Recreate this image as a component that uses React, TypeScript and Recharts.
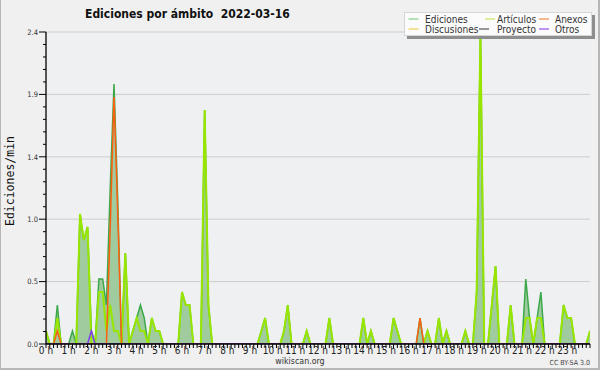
import React from 'react';
import { ComposedChart, Area, Line, XAxis, YAxis, CartesianGrid, Legend } from 'recharts';

// 10-minute slots of 2022-03-16 (0 = 00:00 ... 144 = 24:00)
const slots: number[] = Array.from({ length: 145 }, (_, i) => i);

const hourLabels = [
  '0 h', '1 h', '2 h', '3 h', '4 h', '5 h', '6 h', '7 h', '8 h', '9 h', '10 h', '11 h',
  '12 h', '13 h', '14 h', '15 h', '16 h', '17 h', '18 h', '19 h', '20 h', '21 h', '22 h', '23 h',
];

const ediciones = [
  0.1, 0, 0, 0.3, 0, 0, 0, 0.1, 0, 1.0, 0.8, 0.9,
  0.1, 0, 0.5, 0.5, 0.3, 1.2, 2.0, 1.1, 0, 0.7, 0, 0.1,
  0.2, 0.3, 0.2, 0, 0.2, 0.1, 0.1, 0, 0, 0, 0, 0,
  0.4, 0.3, 0.3, 0, 0, 0, 1.8, 0.3, 0, 0, 0, 0,
  0, 0, 0, 0, 0, 0, 0, 0, 0, 0.1, 0.2, 0,
  0, 0, 0, 0.1, 0.3, 0, 0, 0, 0, 0.1, 0, 0,
  0, 0, 0, 0.2, 0, 0, 0, 0, 0, 0, 0, 0,
  0.2, 0, 0.1, 0, 0, 0, 0, 0, 0.2, 0.1, 0, 0,
  0, 0, 0, 0.2, 0, 0.1, 0, 0, 0.2, 0, 0.1, 0,
  0, 0, 0, 0.1, 0, 0, 0.4, 2.4, 0, 0, 0.3, 0.6,
  0, 0, 0, 0.3, 0, 0, 0, 0.5, 0.2, 0, 0.2, 0.4,
  0, 0, 0, 0, 0, 0.3, 0.2, 0.2, 0, 0, 0, 0,
  0.1,
];

const articulos = [
  0.1, 0, 0, 0.2, 0, 0, 0, 0, 0, 1.0, 0.8, 0.9,
  0, 0, 0.4, 0.4, 0.1, 0.3, 0.1, 0.1, 0, 0.7, 0, 0.1,
  0.2, 0.1, 0.1, 0, 0.2, 0.1, 0.1, 0, 0, 0, 0, 0,
  0.4, 0.3, 0.3, 0, 0, 0, 1.8, 0.3, 0, 0, 0, 0,
  0, 0, 0, 0, 0, 0, 0, 0, 0, 0.1, 0.2, 0,
  0, 0, 0, 0.1, 0.3, 0, 0, 0, 0, 0.1, 0, 0,
  0, 0, 0, 0.2, 0, 0, 0, 0, 0, 0, 0, 0,
  0.2, 0, 0.1, 0, 0, 0, 0, 0, 0.2, 0.1, 0, 0,
  0, 0, 0, 0, 0, 0.1, 0, 0, 0.2, 0, 0.1, 0,
  0, 0, 0, 0.1, 0, 0, 0.4, 2.4, 0, 0, 0.3, 0.6,
  0, 0, 0, 0.3, 0, 0, 0, 0.2, 0.2, 0, 0.2, 0.2,
  0, 0, 0, 0, 0, 0.3, 0.2, 0.2, 0, 0, 0, 0,
  0.1,
];

const anexos = [
  0, 0, 0, 0.1, 0, 0, 0, 0, 0, 0, 0, 0,
  0, 0, 0, 0, 0, 0.9, 1.9, 1.0, 0, 0, 0, 0,
  0, 0, 0, 0, 0, 0, 0, 0, 0, 0, 0, 0,
  0, 0, 0, 0, 0, 0, 0, 0, 0, 0, 0, 0,
  0, 0, 0, 0, 0, 0, 0, 0, 0, 0, 0, 0,
  0, 0, 0, 0, 0, 0, 0, 0, 0, 0, 0, 0,
  0, 0, 0, 0, 0, 0, 0, 0, 0, 0, 0, 0,
  0, 0, 0, 0, 0, 0, 0, 0, 0, 0, 0, 0,
  0, 0, 0, 0.2, 0, 0, 0, 0, 0, 0, 0, 0,
  0, 0, 0, 0, 0, 0, 0, 0, 0, 0, 0, 0,
  0, 0, 0, 0, 0, 0, 0, 0, 0, 0, 0, 0,
  0, 0, 0, 0, 0, 0, 0, 0, 0, 0, 0, 0,
  0,
];

const discusiones = [
  0, 0, 0, 0, 0, 0, 0, 0, 0, 0, 0, 0,
  0, 0, 0, 0, 0, 0, 0, 0, 0, 0, 0, 0,
  0, 0, 0, 0, 0, 0, 0, 0, 0, 0, 0, 0,
  0, 0, 0, 0, 0, 0, 0, 0, 0, 0, 0, 0,
  0, 0, 0, 0, 0, 0, 0, 0, 0, 0, 0, 0,
  0, 0, 0, 0, 0, 0, 0, 0, 0, 0, 0, 0,
  0, 0, 0, 0, 0, 0, 0, 0, 0, 0, 0, 0,
  0, 0, 0, 0, 0, 0, 0, 0, 0, 0, 0, 0,
  0, 0, 0, 0, 0, 0, 0, 0, 0, 0, 0, 0,
  0, 0, 0, 0, 0, 0, 0, 0, 0, 0, 0, 0,
  0, 0, 0, 0, 0, 0, 0, 0, 0, 0, 0, 0,
  0, 0, 0, 0, 0, 0, 0, 0, 0, 0, 0, 0,
  0,
];

const proyecto = [
  0, 0, 0, 0, 0, 0, 0, 0, 0, 0, 0, 0,
  0, 0, 0, 0, 0, 0, 0, 0, 0, 0, 0, 0,
  0, 0, 0, 0, 0, 0, 0, 0, 0, 0, 0, 0,
  0, 0, 0, 0, 0, 0, 0, 0, 0, 0, 0, 0,
  0, 0, 0, 0, 0, 0, 0, 0, 0, 0, 0, 0,
  0, 0, 0, 0, 0, 0, 0, 0, 0, 0, 0, 0,
  0, 0, 0, 0, 0, 0, 0, 0, 0, 0, 0, 0,
  0, 0, 0, 0, 0, 0, 0, 0, 0, 0, 0, 0,
  0, 0, 0, 0, 0, 0, 0, 0, 0, 0, 0, 0,
  0, 0, 0, 0, 0, 0, 0, 0, 0, 0, 0, 0,
  0, 0, 0, 0, 0, 0, 0, 0, 0, 0, 0, 0,
  0, 0, 0, 0, 0, 0, 0, 0, 0, 0, 0, 0,
  0,
];

const otros = [
  0, 0, 0, 0, 0, 0, 0, 0, 0, 0, 0, 0,
  0.1, 0, 0, 0, 0, 0, 0, 0, 0, 0, 0, 0,
  0, 0, 0, 0, 0, 0, 0, 0, 0, 0, 0, 0,
  0, 0, 0, 0, 0, 0, 0, 0, 0, 0, 0, 0,
  0, 0, 0, 0, 0, 0, 0, 0, 0, 0, 0, 0,
  0, 0, 0, 0, 0, 0, 0, 0, 0, 0, 0, 0,
  0, 0, 0, 0, 0, 0, 0, 0, 0, 0, 0, 0,
  0, 0, 0, 0, 0, 0, 0, 0, 0, 0, 0, 0,
  0, 0, 0, 0, 0, 0, 0, 0, 0, 0, 0, 0,
  0, 0, 0, 0, 0, 0, 0, 0, 0, 0, 0, 0,
  0, 0, 0, 0, 0, 0, 0, 0, 0, 0, 0, 0,
  0, 0, 0, 0, 0, 0, 0, 0, 0, 0, 0, 0,
  0,
];

const majorY = [0, 0.48, 0.96, 1.44, 1.92, 2.4];
const yLabels = ['0.0', '0.5', '1.0', '1.4', '1.9', '2.4'];

const minorY: number[] = [];
majorY.forEach((m, k) => {
  if (k < majorY.length - 1) {
    const step = (majorY[k + 1] - m) / 5;
    for (let j = 0; j < 5; j++) minorY.push(m + j * step);
  } else minorY.push(m);
});

const rows = slots.map((t, i) => ({
  t,
  ed: ediciones[i],
  art: articulos[i],
  anx: anexos[i],
  dis: discusiones[i],
  pro: proyecto[i],
  otr: otros[i],
}));

const FONT = "'DejaVu Sans Condensed', 'DejaVu Sans', sans-serif";

const legendItems = [
  { name: 'Ediciones', color: '#86cf86' },
  { name: 'Artículos', color: '#c8ec5a' },
  { name: 'Anexos', color: '#f08a52' },
  { name: 'Discusiones', color: '#f3cf52' },
  { name: 'Proyecto', color: '#555555' },
  { name: 'Otros', color: '#9a52ee' },
];
// legend layout (local coords inside the legend box)
const legendPos = [
  { lx: 8.5, tx: 25, y: 11 },
  { lx: 85, tx: 97, y: 11 },
  { lx: 139, tx: 155, y: 11 },
  { lx: 8.5, tx: 25, y: 21 },
  { lx: 79, tx: 97, y: 21 },
  { lx: 139, tx: 155, y: 21 },
];

const renderLegend = () => (
  <svg width={200} height={36} style={{ display: 'block' }}>
    <rect x={7} y={7} width={188} height={24} fill="#8e8e8e" />
    <rect x={4.5} y={4.5} width={187} height={23} fill="#fbfbfb" stroke="#d6d6d6" />
    {legendItems.map((it, i) => (
      <g key={it.name}>
        <line x1={legendPos[i].lx} x2={legendPos[i].lx + 10} y1={legendPos[i].y} y2={legendPos[i].y}
          stroke={it.color} strokeWidth={1.2} />
        <text x={legendPos[i].tx} y={legendPos[i].y + 3.7} fontSize={10} fontFamily={FONT}
          style={{ fontStretch: 'condensed' }} fill="#333">{it.name}</text>
      </g>
    ))}
  </svg>
);

const renderXTick = (props: any) => {
  const { x, y, payload } = props;
  const v = Math.round(payload.value);
  if (v % 6 !== 0 || v >= 144) return <g />;
  return (
    <text x={x} y={y} dy={6.2} textAnchor="middle" fontSize={10} fontFamily={FONT}
      style={{ fontStretch: 'condensed' }} fill="#222">{hourLabels[v / 6]}</text>
  );
};

const renderYTick = (props: any) => {
  const { x, y, payload } = props;
  const idx = majorY.findIndex((m) => Math.abs(m - payload.value) < 1e-6);
  if (idx < 0) return <g />;
  return (
    <g>
      <line x1={x - 4} x2={x} y1={y} y2={y} stroke="#000" />
      <text x={x - 5} y={y} dy={2.8} textAnchor="end" fontSize={7.5} fontFamily={FONT}
        style={{ fontStretch: 'condensed' }} fill="#333">{yLabels[idx]}</text>
    </g>
  );
};

export default function App() {
  return (
    <div style={{
      position: 'absolute', left: 0, top: 0, width: 600, height: 370, background: '#f0f0f0',
      boxShadow: 'inset 1px 0 0 #b6b6b6, inset -2px -2px 0 #b6b6b6',
    }}>
      <ComposedChart width={600} height={370} data={rows} margin={{ top: 32, right: 10, bottom: 0, left: 0 }}>
        <CartesianGrid fill="#eef0f2" stroke="#cdcdcd" vertical={false} horizontalValues={majorY} />
        <Area type="linear" dataKey="ed" name="Ediciones" stroke="#3ba84a" strokeWidth={1.5}
          fill="#9fcb9f" fillOpacity={1} dot={false} activeDot={false} isAnimationActive={false} />
        <Line type="linear" dataKey="art" name="Artículos" stroke="#98e600" strokeWidth={2}
          dot={false} activeDot={false} isAnimationActive={false} />
        <Line type="linear" dataKey="dis" name="Discusiones" stroke="#f0c030" strokeWidth={1.5}
          dot={false} activeDot={false} isAnimationActive={false} />
        <Line type="linear" dataKey="pro" name="Proyecto" stroke="#505050" strokeWidth={1.5}
          dot={false} activeDot={false} isAnimationActive={false} />
        <Line type="linear" dataKey="anx" name="Anexos" stroke="#ff6010" strokeWidth={1.5}
          dot={false} activeDot={false} isAnimationActive={false} />
        <Line type="linear" dataKey="otr" name="Otros" stroke="#8040f0" strokeWidth={1.5}
          dot={false} activeDot={false} isAnimationActive={false} />
        <XAxis dataKey="t" type="number" domain={[0, 144]} ticks={slots} interval={0}
          tick={renderXTick} tickSize={4} tickMargin={0} height={26}
          axisLine={{ stroke: '#000', strokeWidth: 1.3 }} tickLine={{ stroke: '#000' }} allowDataOverflow />
        <YAxis type="number" domain={[0, 2.4]} ticks={minorY} interval={0}
          tick={renderYTick} tickSize={3} tickMargin={0} width={46}
          axisLine={{ stroke: '#000', strokeWidth: 1.3 }} tickLine={{ stroke: '#000' }} allowDataOverflow />
        <Legend content={renderLegend} layout="horizontal" verticalAlign="middle" align="center"
          wrapperStyle={{ left: 400, top: 8, width: 200, height: 36 }} />
      </ComposedChart>
      <svg width={600} height={370} style={{ position: 'absolute', left: 0, top: 0, pointerEvents: 'none' }}>
        <text x={85} y={18} fontSize={12} fontWeight="bold" fontFamily={FONT}
          style={{ fontStretch: 'condensed' }} fill="#111">{'Ediciones por ámbito\u00a0 2022-03-16'}</text>
        <text transform="translate(13.5,181) rotate(-90)" textAnchor="middle" fontSize={11.5}
          fontFamily="'DejaVu Sans Mono', monospace" fill="#111">Ediciones/min</text>
        <text x={300} y={364} textAnchor="middle" fontSize={8.8} fontFamily={FONT}
          style={{ fontStretch: 'condensed' }} fill="#333">wikiscan.org</text>
        <text x={590} y={365} textAnchor="end" fontSize={7} fontFamily={FONT}
          style={{ fontStretch: 'condensed' }} fill="#444">CC BY-SA 3.0</text>
      </svg>
    </div>
  );
}
